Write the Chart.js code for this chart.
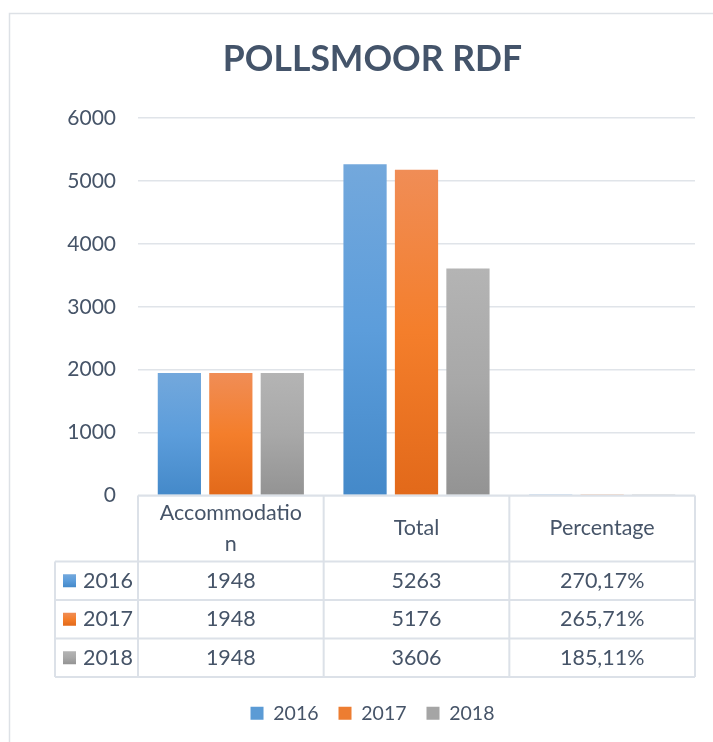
<!DOCTYPE html>
<html>
<head>
<meta charset="utf-8">
<script src="https://cdn.jsdelivr.net/npm/chart.js@4/dist/chart.umd.min.js"></script>
<style>
html,body{margin:0;padding:0;background:#fff;}
#wrap{width:713px;height:742px;position:relative;}
</style>
</head>
<body>
<div id="wrap"><canvas id="c" width="713" height="742"></canvas></div>
<script>
// ---- data ----
const chartTitle = 'POLLSMOOR RDF';
const categories = ['Accommodation', 'Total', 'Percentage'];
const percentCategory = [false, false, true];
const seriesNames = ['2016', '2017', '2018'];
const values2016 = [1948, 5263, 2.7017];
const values2017 = [1948, 5176, 2.6571];
const values2018 = [1948, 3606, 1.8511];
const yTickValues = [0, 1000, 2000, 3000, 4000, 5000, 6000];

// ---- style ----
const TEXT = '#465468';
const FONT = 'Lato, "Open Sans", sans-serif';
const seriesGradients = [
  ['#73A8DC', '#5C9DDB', '#4489C9'],
  ['#F08D56', '#F47E2B', '#E2691A'],
  ['#B4B4B4', '#A8A8A8', '#939393']
];
const seriesSolid = ['#5B9BD5', '#ED7D31', '#A5A5A5'];
const seriesValues = [values2016, values2017, values2018];

function barGradient(stops) {
  return (ctx) => {
    const chart = ctx.chart;
    if (ctx.type !== 'data' || !chart.chartArea || !ctx.parsed) return stops[1];
    const ys = chart.scales.y;
    const top = ys.getPixelForValue(ctx.parsed.y);
    const bottom = ys.getPixelForValue(0);
    if (!(bottom - top > 1)) return stops[2];
    const g = chart.ctx.createLinearGradient(0, top, 0, bottom);
    g.addColorStop(0, stops[0]);
    g.addColorStop(0.5, stops[1]);
    g.addColorStop(1, stops[2]);
    return g;
  };
}

function formatValue(v, i) {
  if (percentCategory[i]) return (v * 100).toFixed(2).replace('.', ',') + '%';
  return String(v);
}

function wrapChars(c, text, maxW) {
  const lines = [];
  let cur = '';
  for (const ch of text) {
    if (cur && c.measureText(cur + ch).width > maxW) { lines.push(cur); cur = ch; }
    else cur += ch;
  }
  if (cur) lines.push(cur);
  return lines;
}

const framePlugin = {
  id: 'frame',
  beforeDraw(chart) {
    const c = chart.ctx;
    c.save();
    c.fillStyle = '#ffffff';
    c.fillRect(0, 0, chart.width, chart.height);
    c.strokeStyle = '#DDE1E6';
    c.lineWidth = 1.5;
    c.strokeRect(9.5, 13.5, chart.width + 20, chart.height + 20);
    c.restore();
  }
};

const tablePlugin = {
  id: 'dataTable',
  afterDraw(chart) {
    const c = chart.ctx, ca = chart.chartArea, xs = chart.scales.x;
    const n = categories.length;
    const cw = (ca.right - ca.left) / n;
    const top = ca.bottom, headH = 66, rowH = 38.5, keyLeft = 55;
    const bottom = top + headH + seriesValues.length * rowH;
    c.save();
    c.strokeStyle = '#DCE1E8';
    c.lineWidth = 2;
    c.beginPath();
    c.moveTo(ca.left, top); c.lineTo(ca.right, top);
    for (let r = 0; r <= seriesValues.length; r++) {
      const y = top + headH + r * rowH;
      c.moveTo(keyLeft, y); c.lineTo(ca.right, y);
    }
    c.moveTo(keyLeft, top + headH); c.lineTo(keyLeft, bottom);
    for (let i = 0; i <= n; i++) {
      const x = ca.left + i * cw;
      c.moveTo(x, top); c.lineTo(x, bottom);
    }
    c.stroke();

    c.fillStyle = TEXT;
    c.font = '21.5px ' + FONT;
    c.textAlign = 'center';
    c.textBaseline = 'middle';
    categories.forEach((lab, i) => {
      const x = xs.getPixelForValue(i);
      const lines = wrapChars(c, lab, 150);
      const lh = 31;
      const y0 = top + headH / 2 - (lines.length - 1) * lh / 2;
      lines.forEach((l, k) => c.fillText(l, x, y0 + k * lh));
    });
    seriesValues.forEach((vals, r) => {
      const yc = top + headH + r * rowH + rowH / 2;
      const st = seriesGradients[r];
      const g = c.createLinearGradient(0, yc - 6.5, 0, yc + 6.5);
      g.addColorStop(0, st[0]); g.addColorStop(0.5, st[1]); g.addColorStop(1, st[2]);
      c.fillStyle = g;
      c.fillRect(63, yc - 6.5, 13, 13);
      c.fillStyle = TEXT;
      c.textAlign = 'left';
      c.fillText(seriesNames[r], 83, yc);
      c.textAlign = 'center';
      vals.forEach((v, i) => c.fillText(formatValue(v, i), xs.getPixelForValue(i), yc));
    });
    c.restore();
  }
};

function draw() {
  new Chart(document.getElementById('c'), {
    type: 'bar',
    data: {
      labels: categories,
      datasets: seriesNames.map((name, i) => ({
        label: name,
        data: seriesValues[i],
        backgroundColor: barGradient(seriesGradients[i]),
        borderWidth: 0,
        categoryPercentage: 0.8315,
        barPercentage: 0.84
      }))
    },
    options: {
      responsive: false,
      animation: false,
      devicePixelRatio: 1,
      layout: { padding: { top: 0, left: 50, right: 18, bottom: 9 } },
      plugins: {
        title: {
          display: true,
          text: chartTitle,
          color: '#44546A',
          font: { family: FONT, size: 35.5, weight: 'bold' },
          padding: { top: 38, bottom: 37.4 }
        },
        legend: {
          position: 'bottom',
          labels: {
            color: TEXT,
            font: { family: FONT, size: 19.5 },
            boxWidth: 13,
            boxHeight: 13,
            padding: 20,
            generateLabels: () => seriesNames.map((t, i) => ({
              text: t, fillStyle: seriesSolid[i], strokeStyle: seriesSolid[i],
              lineWidth: 0, hidden: false, datasetIndex: i, fontColor: TEXT
            }))
          }
        },
        tooltip: { enabled: false }
      },
      scales: {
        x: {
          display: true,
          grid: { display: false },
          border: { display: false },
          ticks: { display: false },
          afterFit: (s) => { s.height = 188; }
        },
        y: {
          min: yTickValues[0],
          max: yTickValues[yTickValues.length - 1],
          afterBuildTicks: (s) => { s.ticks = yTickValues.map(v => ({ value: v })); },
          grid: { color: '#E0E4E9', lineWidth: 1.5, drawTicks: false },
          border: { display: false },
          ticks: {
            color: TEXT,
            font: { family: FONT, size: 21 },
            padding: 22,
            callback: (v) => String(v)
          },
          afterFit: (s) => { s.width = 88; }
        }
      }
    },
    plugins: [framePlugin, tablePlugin]
  });
}

if (document.fonts && document.fonts.load) {
  Promise.all([
    document.fonts.load('bold 35.5px Lato'),
    document.fonts.load('21px Lato')
  ]).then(draw, draw);
} else {
  draw();
}
</script>
</body>
</html>
